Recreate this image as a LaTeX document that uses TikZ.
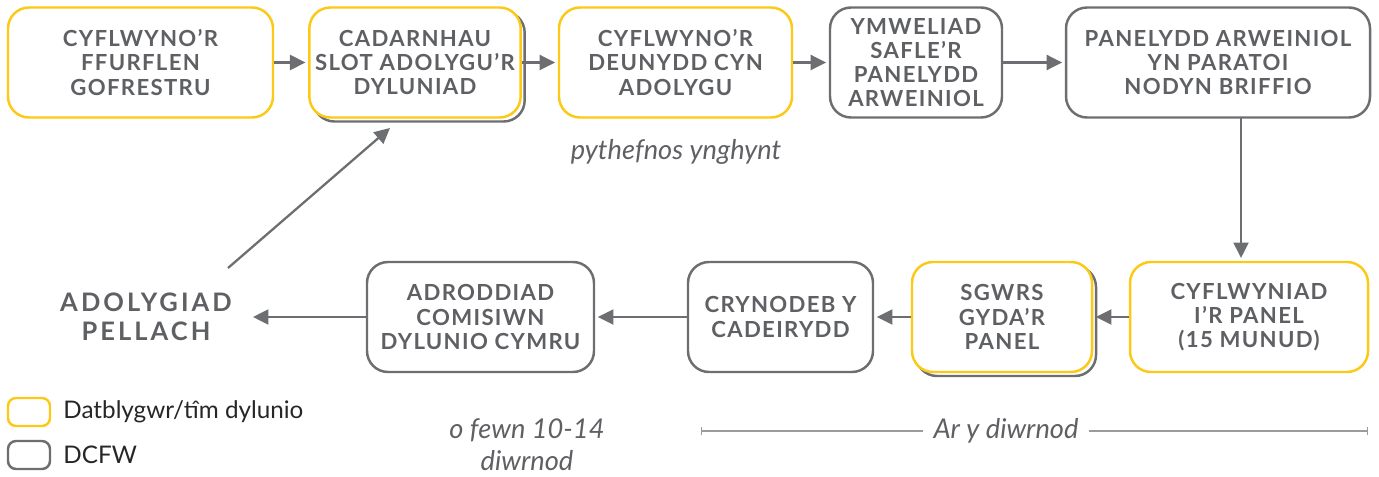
\documentclass[tikz,border=0pt]{standalone}
\usepackage{fontspec}
\setmainfont{Lato}
\newfontfamily\boxfont[LetterSpace=6]{Lato Bold}
\newfontfamily\headfont[LetterSpace=12]{Lato Bold}
\usetikzlibrary{positioning, arrows.meta, shadows}

\definecolor{devyellow}{HTML}{FCC916}
\definecolor{dcfwgrey}{HTML}{6D6E71}
\definecolor{textgrey}{HTML}{5F6063}
\definecolor{rulegrey}{HTML}{9A9B9E}

\begin{document}
\begin{tikzpicture}[
    stage/.style={rectangle, rounded corners=0.42cm, line width=1.4pt, fill=white,
                  minimum height=2.2cm, align=center, text=textgrey,
                  font=\boxfont\fontsize{12.6}{13.8}\selectfont},
    devbox/.style={stage, draw=devyellow},
    dcfwbox/.style={stage, draw=dcfwgrey},
    devshadow/.style={devbox, copy shadow={shadow xshift=0.08cm, shadow yshift=-0.08cm,
                  draw=dcfwgrey, fill=white, line width=1.4pt}},
    note/.style={font=\itshape\fontsize{15.5}{18}\selectfont, text=textgrey, align=center},
    key/.style={rectangle, rounded corners=0.16cm, line width=1.4pt, minimum width=0.84cm,
                minimum height=0.56cm},
    arrow/.style={-{Triangle[length=3.1mm, width=3mm]}, line width=1.3pt, draw=dcfwgrey}
]
    \useasboundingbox (0,0) rectangle (27.58,9.52);

    % === Top row ===
    \node[devbox, minimum width=5.3cm] (b1) at (2.81, 8.27) {CYFLWYNO’R\\FFURFLEN\\GOFRESTRU};
    \node[devshadow, minimum width=4.2cm] (b2) at (8.3, 8.27) {CADARNHAU\\SLOT ADOLYGU’R\\DYLUNIAD};
    \node[devbox, minimum width=4.66cm] (b3) at (13.51, 8.27) {CYFLWYNO’R\\DEUNYDD CYN\\ADOLYGU};
    \node[dcfwbox, minimum width=3.44cm] (b4) at (18.32, 8.27) {YMWELIAD\\SAFLE’R\\PANELYDD\\ARWEINIOL};
    \node[dcfwbox, minimum width=6.08cm] (b5) at (24.36, 8.27) {PANELYDD ARWEINIOL\\YN PARATOI\\NODYN BRIFFIO};

    \draw[arrow, shorten >=1.5pt] (b1) -- (b2);
    \draw[arrow, shorten >=1.5pt] (b2) -- (b3);
    \draw[arrow, shorten >=1.5pt] (b3) -- (b4);
    \draw[arrow, shorten >=1.5pt] (b4) -- (b5);

    \node[note] (lead) at (13.52, 6.48) {pythefnos ynghynt};

    % === Bottom row ===
    \node[devbox, minimum width=4.76cm] (b6) at (24.98, 3.18) {CYFLWYNIAD\\I’R PANEL\\(15 MUNUD)};
    \node[devshadow, minimum width=3.6cm] (b7) at (20.04, 3.18) {SGWRS\\GYDA’R\\PANEL};
    \node[dcfwbox, minimum width=3.7cm] (b8) at (15.61, 3.18) {CRYNODEB Y\\CADEIRYDD};
    \node[dcfwbox, minimum width=4.54cm] (b9) at (9.61, 3.18) {ADRODDIAD\\COMISIWN\\DYLUNIO CYMRU};
    \node[text=textgrey, align=center, font=\headfont\fontsize{14.5}{16.5}\selectfont]
          (further) at (2.92, 3.18) {ADOLYGIAD\\PELLACH};

    \coordinate (down-top) at (24.82, 7.16);
    \coordinate (down-end) at (24.82, 4.36);
    \draw[arrow] (down-top) -- (down-end);
    \draw[arrow, shorten >=1.5pt] (b6) -- (b7);
    \draw[arrow, shorten >=1.5pt] (b7) -- (b8);
    \draw[arrow, shorten >=1.5pt] (b8) -- (b9);
    \draw[arrow, shorten >=0.3cm] (b9.west) -- (further.east);

    \coordinate (back-tail) at (4.56, 4.16);
    \coordinate (back-head) at (7.8, 6.96);
    \draw[arrow] (back-tail) -- (back-head);

    % === Timings ===
    \node[note] (within) at (10.54, 0.62) {o fewn 10-14\\diwrnod};
    \coordinate (day-start) at (14.02, 0.9);
    \coordinate (day-end) at (27.36, 0.9);
    \draw[{Bar[width=5pt]}-{Bar[width=5pt]}, line width=0.6pt, rulegrey] (day-start) -- (day-end);
    \node[note, fill=white, inner xsep=6pt] (onday) at (20.12, 0.9) {Ar y diwrnod};

    % === Key ===
    \node[key, draw=devyellow] (key-dev) at (0.58, 1.28) {};
    \node[key, draw=dcfwgrey] (key-dcfw) at (0.58, 0.42) {};
    \node[right=0.12cm of key-dev, font=\fontsize{13.8}{16}\selectfont, text=black!85] (key-dev-text) {Datblygwr/tîm dylunio};
    \node[right=0.12cm of key-dcfw, font=\fontsize{13.8}{16}\selectfont, text=black!85] (key-dcfw-text) {DCFW};

\end{tikzpicture}
\end{document}
